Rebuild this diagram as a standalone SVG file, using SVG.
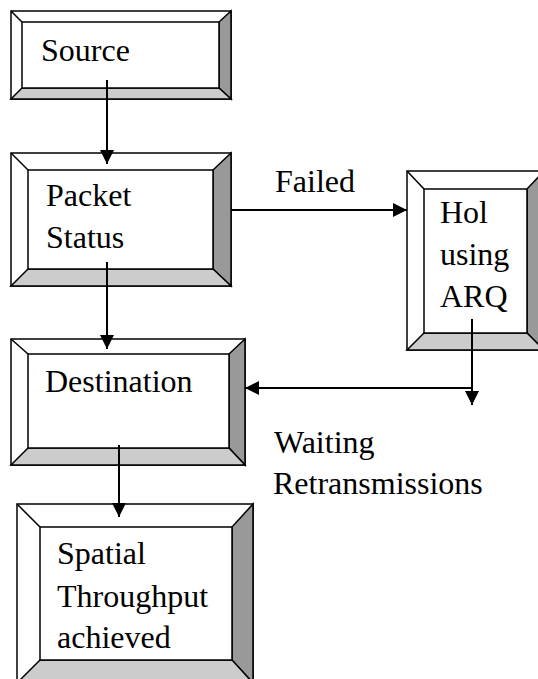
<svg xmlns="http://www.w3.org/2000/svg" width="538" height="679" viewBox="0 0 538 679">
<defs>
<marker id="ah" viewBox="0 0 14 14" refX="14" refY="7" markerWidth="14" markerHeight="14" markerUnits="userSpaceOnUse" orient="auto">
<path d="M0,0 L14,7 L0,14 Z" fill="#000"/>
</marker>
<style>
.o{fill:#fff;stroke:#000;stroke-width:1.5}
.r{fill:#999;stroke:#000;stroke-width:1.5;stroke-linejoin:miter}
.b{fill:#ccc;stroke:#000;stroke-width:1.5}
.d{stroke:#000;stroke-width:1.5}
.t{font-family:"Liberation Serif","Times New Roman",serif;font-size:32px;fill:#000}
.c{stroke:#000;stroke-width:2;fill:none;marker-end:url(#ah)}
</style>
</defs>
<rect width="538" height="679" fill="#fff"/>

<g id="source">
<rect class="o" x="11" y="11" width="220" height="88"/>
<polygon class="r" points="231,11 231,99 219,88 219,22"/>
<polygon class="b" points="11,99 231,99 219,88 22,88"/>
<rect class="o" x="22" y="22" width="197" height="66"/>
<line class="d" x1="11" y1="11" x2="22" y2="22"/>
<text class="t" x="41" y="61">Source</text>
</g>

<g id="packet-status">
<rect class="o" x="11" y="153" width="220" height="133"/>
<polygon class="r" points="231,153 231,286 213,269 213,170"/>
<polygon class="b" points="11,286 231,286 213,269 28,269"/>
<rect class="o" x="28" y="170" width="185" height="99"/>
<line class="d" x1="11" y1="153" x2="28" y2="170"/>
<text class="t" x="46" y="206">Packet</text>
<text class="t" x="46" y="248">Status</text>
</g>

<g id="hol-arq">
<rect class="o" x="407" y="171" width="137" height="179"/>
<polygon class="r" points="544,171 544,350 527,333 527,189"/>
<polygon class="b" points="407,350 544,350 527,333 424,333"/>
<rect class="o" x="424" y="189" width="103" height="144"/>
<line class="d" x1="407" y1="171" x2="424" y2="189"/>
<text class="t" x="440" y="223">Hol</text>
<text class="t" x="440" y="265">using</text>
<text class="t" x="440" y="307">ARQ</text>
</g>

<g id="destination">
<rect class="o" x="11" y="339" width="234" height="126"/>
<polygon class="r" points="245,339 245,465 229,448 229,354"/>
<polygon class="b" points="11,465 245,465 229,448 28,448"/>
<rect class="o" x="28" y="354" width="201" height="94"/>
<line class="d" x1="11" y1="339" x2="28" y2="354"/>
<text class="t" x="45" y="392">Destination</text>
</g>

<g id="spatial-throughput">
<rect class="o" x="17" y="504" width="236" height="179"/>
<polygon class="r" points="253,504 253,683 232,660 232,527"/>
<polygon class="b" points="17,683 253,683 232,660 40,660"/>
<rect class="o" x="40" y="527" width="192" height="133"/>
<line class="d" x1="17" y1="504" x2="40" y2="527"/>
<text class="t" x="57" y="564">Spatial</text>
<text class="t" x="57" y="607">Throughput</text>
<text class="t" x="57" y="648">achieved</text>
</g>

<g id="labels">
<text class="t" x="275" y="192">Failed</text>
<text class="t" x="274" y="453">Waiting</text>
<text class="t" x="273" y="494">Retransmissions</text>
</g>

<g id="connectors">
<line class="c" x1="107" y1="80" x2="107" y2="164"/>
<line class="c" x1="107" y1="262" x2="107" y2="349"/>
<line class="c" x1="231" y1="210" x2="407" y2="210"/>
<line class="c" x1="472" y1="319" x2="472" y2="405"/>
<line class="c" x1="472" y1="388" x2="245" y2="388"/>
<line class="c" x1="119" y1="445" x2="119" y2="517"/>
</g>
</svg>
